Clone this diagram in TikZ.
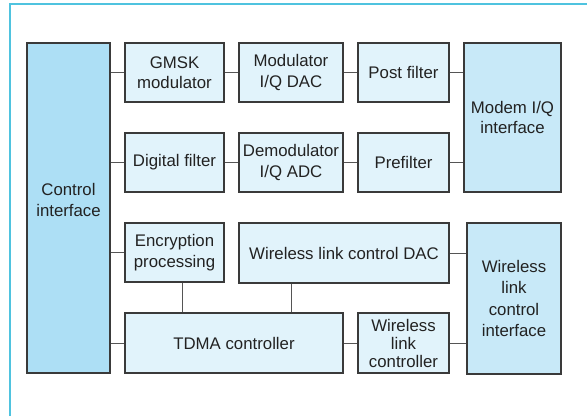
\documentclass[tikz,border=0pt]{standalone}
\usepackage{fontspec}
\setmainfont{Liberation Sans}
\begin{document}
\begin{tikzpicture}[x=1pt,y=-1pt,
  blk/.style={draw=boxline,line width=1.1pt,fill=smallfill,text=txt,align=center,inner sep=0pt,
    font=\fontsize{16.8}{20.5}\selectfont},
  conn/.style={draw=connline,line width=1pt}]
\definecolor{boxline}{HTML}{3A3A3A}
\definecolor{connline}{HTML}{555555}
\definecolor{smallfill}{HTML}{E1F3FB}
\definecolor{ctrlfill}{HTML}{ADDFF5}
\definecolor{ifacefill}{HTML}{C8E9F8}
\definecolor{framec}{HTML}{4FC3DF}
\definecolor{txt}{HTML}{222222}
\useasboundingbox (0,0) rectangle (587,416);
\draw[framec,line width=1.2pt] (10,416) -- (10,4) -- (587,4);

\node[blk,fill=ctrlfill,minimum width=83pt,minimum height=330pt] (ctrl) at (68.5,208) {};
\node[text=txt,align=center,font=\fontsize{16.8}{21}\selectfont] (ctrltxt) at (68.5,200) {Control\\interface};

\node[blk,minimum width=99pt,minimum height=59pt] (gmsk) at (174.5,72.5) {GMSK\\modulator};
\node[blk,minimum width=104pt,minimum height=59pt] (moddac) at (291,72.5) {Modulator\\I/Q DAC};
\node[blk,minimum width=91pt,minimum height=59pt] (post) at (403.5,72.5) {Post filter};
\node[blk,fill=ifacefill,minimum width=97pt,minimum height=149pt] (modem) at (512.5,117.5) {Modem I/Q\\interface};

\node[blk,minimum width=99pt,minimum height=59pt] (dig) at (174.5,162.5) {Digital filter};
\node[blk,minimum width=104pt,minimum height=59pt] (demadc) at (291,162.5) {Demodulator\\I/Q ADC};
\node[blk,minimum width=91pt,minimum height=59pt] (pre) at (403.5,162.5) {Prefilter};

\node[blk,minimum width=99pt,minimum height=59pt] (enc) at (174.5,252.5) {Encryption\\processing};
\node[blk,minimum width=210pt,minimum height=60pt] (wlcdac) at (344,253) {Wireless link control DAC};
\node[blk,fill=ifacefill,minimum width=94pt,minimum height=151pt,font=\fontsize{16.8}{21.5}\selectfont] (wlci) at (514,298.5) {Wireless\\link\\control\\interface};

\node[blk,minimum width=218pt,minimum height=60pt] (tdma) at (234,343) {TDMA controller};
\node[blk,minimum width=91pt,minimum height=60pt,font=\fontsize{16.8}{18}\selectfont] (wlc) at (403.5,343) {Wireless\\link\\controller};

\draw[conn] (gmsk.west) -- (gmsk.west -| ctrl.east);
\draw[conn] (dig.west) -- (dig.west -| ctrl.east);
\draw[conn] (enc.west) -- (enc.west -| ctrl.east);
\draw[conn] (tdma.west) -- (tdma.west -| ctrl.east);
\draw[conn] (gmsk.east) -- (moddac.west);
\draw[conn] (moddac.east) -- (post.west);
\draw[conn] (post.east) -- (post.east -| modem.west);
\draw[conn] (dig.east) -- (demadc.west);
\draw[conn] (demadc.east) -- (pre.west);
\draw[conn] (pre.east) -- (pre.east -| modem.west);
\draw[conn] ([xshift=7.5pt]enc.south) -- ([xshift=7.5pt]enc.south |- tdma.north);
\draw[conn] ([xshift=57pt]tdma.north) -- ([xshift=57pt]tdma.north |- wlcdac.south);
\draw[conn] (wlcdac.east) -- (wlcdac.east -| wlci.west);
\draw[conn] (tdma.east) -- (wlc.west);
\draw[conn] (wlc.east) -- (wlc.east -| wlci.west);
\end{tikzpicture}
\end{document}
